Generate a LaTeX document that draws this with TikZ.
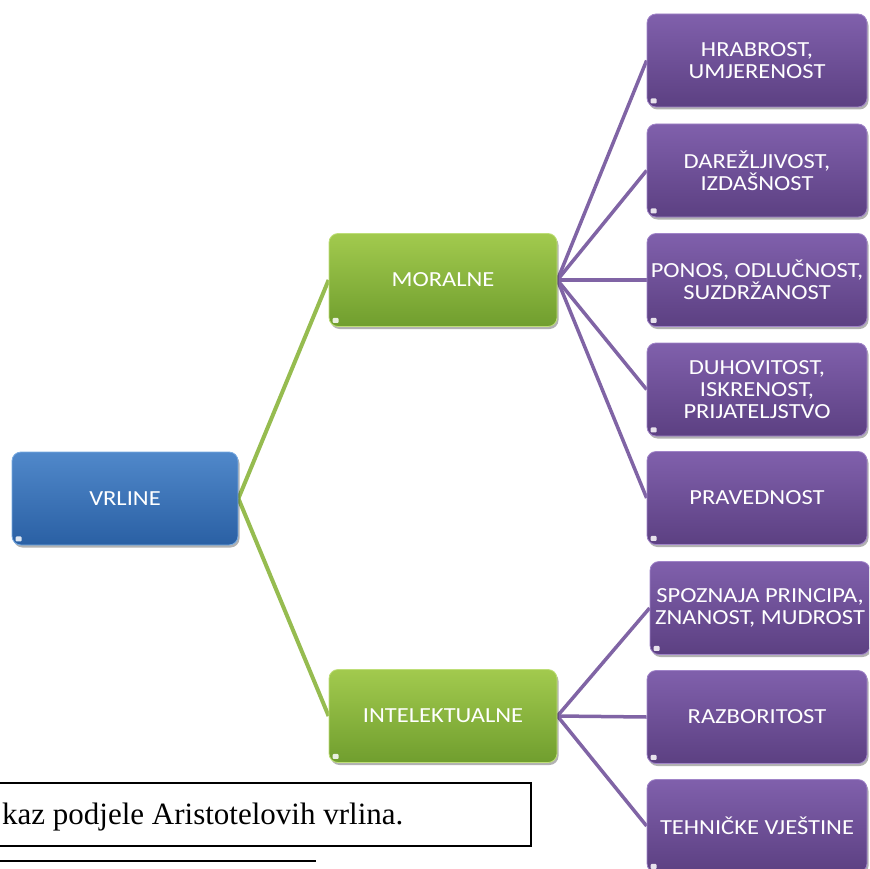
\documentclass[tikz,border=0pt]{standalone}
\usepackage{fontspec}
\newfontfamily\boxfont[FakeStretch=1.14]{Carlito}
\newfontfamily\capfont{Liberation Serif}
\usetikzlibrary{shadows,backgrounds,calc}
\definecolor{bluetop}{RGB}{80,136,202}
\definecolor{bluebot}{RGB}{42,96,164}
\definecolor{blueedge}{RGB}{120,170,225}
\definecolor{greentop}{RGB}{162,202,78}
\definecolor{greenbot}{RGB}{112,158,46}
\definecolor{greenedge}{RGB}{190,222,120}
\definecolor{purtop}{RGB}{128,96,172}
\definecolor{purbot}{RGB}{92,64,130}
\definecolor{puredge}{RGB}{160,132,200}
\definecolor{greenline}{RGB}{150,188,80}
\definecolor{purline}{RGB}{128,100,165}
\tikzset{
  boxbase/.style={rounded corners=9pt, inner sep=0pt, align=center, text=white,
    font=\boxfont\fontsize{21.5}{22}\selectfont, minimum height=93pt, line width=0.8pt,
    drop shadow={shadow xshift=1.5pt, shadow yshift=-2.5pt, opacity=0.3, fill=black}},
  bluebox/.style={boxbase, top color=bluetop, bottom color=bluebot, draw=blueedge, minimum width=226pt},
  greenbox/.style={boxbase, top color=greentop, bottom color=greenbot, draw=greenedge, minimum width=228pt},
  purbox/.style={boxbase, top color=purtop, bottom color=purbot, draw=puredge, minimum width=220pt},
  gline/.style={draw=greenline, line width=4pt},
  pline/.style={draw=purline, line width=3.5pt},
  glint/.style={fill=white, opacity=0.85, rounded corners=1pt}
}
\begin{document}
\begin{tikzpicture}[x=1pt,y=-1pt]
\useasboundingbox (0,0) rectangle (869,869);
\clip (0,0) rectangle (869,869);
\node[bluebox] (vrline) at (125,498.5) {VRLINE};
\node[greenbox] (moralne) at (443,280) {MORALNE};
\node[greenbox] (intel) at (443,716) {INTELEKTUALNE};
\node[purbox] (p1) at (757,60.5) {HRABROST,\\UMJERENOST};
\node[purbox] (p2) at (757,170.5) {DAREŽLJIVOST,\\IZDAŠNOST};
\node[purbox] (p3) at (757,280) {PONOS, ODLUČNOST,\\SUZDRŽANOST};
\node[purbox] (p4) at (757,389.5) {DUHOVITOST,\\ISKRENOST,\\PRIJATELJSTVO};
\node[purbox] (p5) at (757,498) {PRAVEDNOST};
\node[purbox] (p6) at (760,608) {SPOZNAJA PRINCIPA,\\ZNANOST, MUDROST};
\node[purbox] (p7) at (757,717) {RAZBORITOST};
\node[purbox] (p8) at (757,826) {TEHNIČKE VJEŠTINE};
\foreach \n in {vrline,moralne,intel,p1,p2,p3,p4,p5,p6,p7,p8}{
  \fill[glint] ($(\n.south west)+(4,-4)$) rectangle +(6,-5);
}
\begin{pgfonlayer}{background}
\draw[gline] (vrline.east) -- (moralne.west);
\draw[gline] (vrline.east) -- (intel.west);
\foreach \p in {p1,p2,p3,p4,p5}{\draw[pline] (moralne.east) -- (\p.west);}
\foreach \p in {p6,p7,p8}{\draw[pline] (intel.east) -- (\p.west);}
\end{pgfonlayer}
\draw[line width=1.8pt, fill=white] (-5,783) rectangle (531,846);
\node[anchor=base west, inner sep=0pt, font=\capfont\fontsize{31}{36}\selectfont] (caption) at (2,824) {kaz podjele Aristotelovih vrlina.};
\draw[line width=2pt] (-2,861) -- (316,861);
\end{tikzpicture}
\end{document}
